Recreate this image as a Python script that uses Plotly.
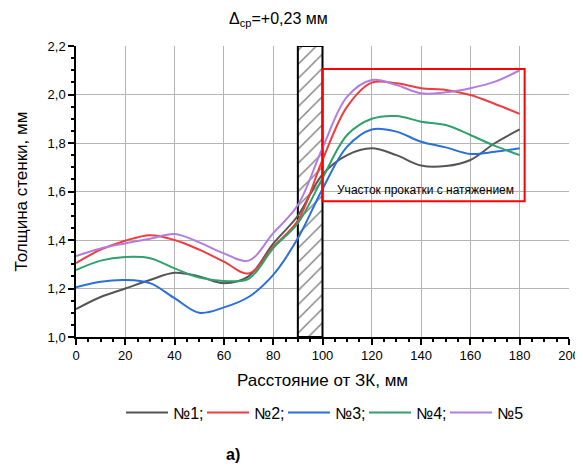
import plotly.graph_objects as go

x_mm = [0, 10, 20, 30, 40, 50, 60, 70, 80, 90, 100, 110, 120, 130, 140, 150, 160, 170, 180]

s1 = [1.115, 1.165, 1.200, 1.235, 1.265, 1.250, 1.222, 1.250, 1.385, 1.500, 1.670, 1.750, 1.778, 1.750, 1.707, 1.705, 1.730, 1.800, 1.856]
s2 = [1.305, 1.360, 1.397, 1.420, 1.400, 1.360, 1.311, 1.262, 1.372, 1.480, 1.730, 1.950, 2.049, 2.046, 2.026, 2.019, 1.998, 1.961, 1.920]
s3 = [1.205, 1.228, 1.235, 1.222, 1.160, 1.100, 1.122, 1.165, 1.256, 1.407, 1.610, 1.785, 1.856, 1.847, 1.805, 1.782, 1.755, 1.764, 1.778]
s4 = [1.276, 1.315, 1.330, 1.325, 1.283, 1.245, 1.231, 1.240, 1.366, 1.469, 1.655, 1.833, 1.900, 1.911, 1.888, 1.874, 1.833, 1.788, 1.750]
s5 = [1.334, 1.365, 1.386, 1.405, 1.425, 1.390, 1.345, 1.315, 1.428, 1.544, 1.780, 1.991, 2.060, 2.039, 2.005, 2.009, 2.026, 2.053, 2.100]

names = ["№1;", "№2;", "№3;", "№4;", "№5"]
colors = ["#555555", "#f03c3c", "#2a6fdb", "#2ea26a", "#b57ce0"]

# hatched zone (clamp) and tension zone
hatch_x = [90, 100, 100, 90, 90]
hatch_y = [1.0, 1.0, 2.2, 2.2, 1.0]
zone_x = [100, 182]
zone_y = [1.56, 2.105]

FONT = "Liberation Sans, Arial, sans-serif"

fig = go.Figure()
fig.add_trace(go.Scatter(
    x=hatch_x, y=hatch_y, mode="lines", fill="toself",
    fillcolor="white",
    fillpattern=dict(shape="/", fgcolor="black", bgcolor="white", size=10, solidity=0.14),
    line=dict(color="black", width=2), showlegend=False, hoverinfo="skip"))

for name, ys, c in zip(names, [s1, s2, s3, s4, s5], colors):
    fig.add_trace(go.Scatter(x=x_mm, y=ys, mode="lines", name=name,
                             line=dict(color=c, width=2, shape="spline", smoothing=1.0)))

fig.add_shape(type="rect", x0=zone_x[0], x1=zone_x[1], y0=zone_y[0], y1=zone_y[1],
              line=dict(color="#ff0000", width=2), layer="above")

fig.add_annotation(x=141.6, y=1.606, text="Участок прокатки с натяжением", showarrow=False,
                   font=dict(size=12, color="black", family=FONT))
fig.add_annotation(xref="paper", yref="paper", x=0.41, y=1.09, yanchor="middle",
                   text="Δ<sub>ср</sub>=+0,23 мм", showarrow=False,
                   font=dict(size=16, color="black", family=FONT))
fig.add_annotation(xref="paper", yref="paper", x=0.3, y=-0.405, yanchor="middle",
                   text="<b>а)</b>", showarrow=False,
                   font=dict(size=16, color="black", family=FONT))

axis_common = dict(showline=True, linecolor="black", linewidth=1.5, ticks="outside",
                   tickcolor="black", ticklen=6, tickwidth=1.5, showgrid=True,
                   gridcolor="#b4b4b4", gridwidth=1, zeroline=False, automargin=False,
                   tickfont=dict(size=13, color="black", family=FONT),
                   minor=dict(ticks="outside", ticklen=3, tickcolor="black", tickwidth=1.5, showgrid=False))

fig.update_xaxes(range=[0, 200], dtick=20, **axis_common,
                 title=dict(text="Расстояние от ЗК, мм", font=dict(size=17, color="black", family=FONT), standoff=12))
fig.update_yaxes(range=[1.0, 2.2], dtick=0.2, tickformat=".1f", **axis_common,
                 title=dict(text="Толщина стенки, мм", font=dict(size=17, color="black", family=FONT), standoff=16))

fig.update_layout(
    width=575, height=460, margin=dict(l=68, r=14, t=38, b=131, autoexpand=False),
    plot_bgcolor="white", paper_bgcolor="white", separators=", ",
    font=dict(family=FONT, color="black"),
    legend=dict(orientation="h", x=0.0913, xanchor="left", y=-0.26, yanchor="middle",
                font=dict(size=16, color="black", family=FONT), itemwidth=42,
                entrywidth=24, entrywidthmode="pixels",
                tracegroupgap=0, bgcolor="rgba(0,0,0,0)"),
)

fig.write_html("out.html")
